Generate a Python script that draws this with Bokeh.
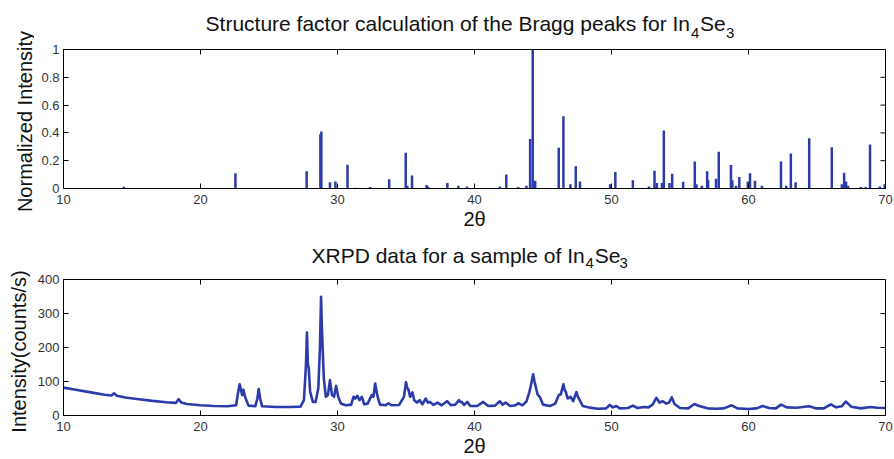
from bokeh.plotting import figure
from bokeh.layouts import column, row
from bokeh.models import Range1d, FixedTicker, Label
from bokeh.embed import file_html
from bokeh.resources import INLINE

# ---------------- data ----------------
# Bragg peak positions (2theta) and normalized intensities
bragg_2theta = [14.4, 22.55, 27.75, 28.75, 28.82, 29.45, 29.85, 30.73, 31.3, 32.38,
                33.77, 34.98, 35.1, 35.44, 36.5, 36.6, 38.02, 38.82, 39.45, 41.85,
                42.32, 43.19, 43.79, 44.06, 44.25, 44.43, 46.15, 46.49, 47.0, 47.39,
                47.7, 49.9, 50.28, 51.56, 52.73, 53.14, 53.31, 53.68, 53.82, 54.23,
                54.43, 55.23, 56.08, 56.2, 56.6, 56.98, 57.05, 57.63, 57.83, 58.72,
                58.82, 59.09, 59.33, 59.95, 60.11, 60.47, 60.98, 62.37, 62.75, 63.09,
                63.44, 64.43, 66.08, 66.81, 66.98, 67.12, 67.27, 68.19, 68.56, 68.87,
                69.58, 69.94]
bragg_intensity = [0.012, 0.11, 0.125, 0.39, 0.41, 0.045, 0.05, 0.17, 0.005, 0.01,
                   0.067, 0.257, 0.02, 0.093, 0.026, 0.015, 0.04, 0.02, 0.015, 0.014,
                   0.1, 0.01, 0.02, 0.356, 1.0, 0.055, 0.294, 0.52, 0.03, 0.16,
                   0.05, 0.03, 0.118, 0.06, 0.015, 0.127, 0.04, 0.04, 0.417, 0.04,
                   0.106, 0.049, 0.194, 0.03, 0.02, 0.125, 0.06, 0.07, 0.264, 0.169,
                   0.06, 0.02, 0.083, 0.05, 0.109, 0.055, 0.02, 0.194, 0.02, 0.252,
                   0.045, 0.361, 0.296, 0.03, 0.113, 0.05, 0.02, 0.01, 0.01, 0.317,
                   0.015, 0.03]

# XRPD measured pattern (2theta, counts/s)
xrpd_2theta = [10.0, 11.0, 12.0, 13.0, 13.5, 13.7, 13.9, 14.5, 15.5, 16.5,
               17.5, 18.2, 18.4, 18.6, 19.0, 20.0, 21.0, 22.0, 22.6, 22.75,
               22.86, 22.98, 23.05, 23.13, 23.25, 23.5, 24.0, 24.15, 24.25, 24.35,
               24.5, 25.5, 26.5, 27.3, 27.55, 27.7, 27.77, 27.84, 27.9, 28.0,
               28.2, 28.4, 28.6, 28.72, 28.8, 28.86, 28.92, 29.0, 29.15, 29.3,
               29.45, 29.6, 29.75, 29.9, 30.05, 30.25, 30.6, 31.0, 31.17, 31.3,
               31.45, 31.6, 31.78, 31.95, 32.2, 32.5, 32.62, 32.75, 32.9, 33.1,
               33.5, 33.72, 33.95, 34.5, 34.85, 35.0, 35.1, 35.18, 35.3, 35.47,
               35.6, 35.8, 36.0, 36.2, 36.44, 36.6, 36.75, 37.0, 37.3, 37.6,
               38.0, 38.3, 38.6, 38.87, 38.95, 39.06, 39.25, 39.47, 39.7, 40.2,
               40.64, 41.0, 41.5, 41.85, 42.05, 42.27, 42.6, 43.0, 43.19, 43.5,
               43.8, 44.0, 44.15, 44.28, 44.38, 44.47, 44.6, 44.76, 45.0, 45.5,
               45.9, 46.15, 46.3, 46.49, 46.58, 46.66, 46.8, 47.02, 47.2, 47.44,
               47.55, 47.68, 47.9, 48.3, 49.0, 49.6, 49.87, 50.1, 50.35, 50.6,
               51.2, 51.56, 51.9, 52.37, 52.7, 53.0, 53.27, 53.5, 53.75, 54.0,
               54.2, 54.4, 54.6, 55.0, 55.6, 56.05, 56.4, 57.0, 57.6, 58.2,
               58.77, 59.2, 60.0, 60.6, 61.03, 61.5, 62.0, 62.37, 62.8, 63.5,
               64.43, 64.9, 65.5, 66.0, 66.4, 66.8, 67.1, 67.5, 68.2, 68.9,
               69.4, 70.0]
xrpd_counts = [82, 75, 68, 61, 59, 65, 58, 53, 48, 43,
               39, 37, 48, 38, 34, 30, 28, 27, 30, 70,
               92, 70, 60, 76, 55, 29, 27, 50, 78, 50,
               27, 25, 25, 26, 45, 150, 244, 150, 140, 70,
               40, 40, 80, 200, 349, 260, 195, 110, 55, 60,
               104, 60, 55, 87, 55, 35, 30, 32, 55, 50,
               58, 45, 55, 33, 35, 60, 55, 94, 60, 32,
               30, 36, 30, 31, 55, 98, 80, 76, 55, 68,
               45, 38, 45, 33, 50, 38, 40, 31, 38, 30,
               42, 30, 32, 45, 40, 40, 31, 40, 28, 28,
               40, 28, 29, 42, 32, 38, 28, 30, 36, 30,
               42, 68, 95, 121, 100, 85, 62, 55, 32, 28,
               35, 60, 62, 92, 75, 70, 50, 55, 42, 69,
               55, 45, 28, 24, 20, 21, 31, 24, 28, 21,
               22, 29, 22, 25, 24, 32, 52, 38, 42, 35,
               38, 53, 34, 22, 21, 34, 28, 21, 20, 21,
               30, 21, 19, 21, 28, 22, 21, 32, 24, 23,
               27, 21, 21, 33, 24, 27, 41, 26, 21, 25,
               23, 22]

x_ticks = [10, 20, 30, 40, 50, 60, 70]
top_y_ticks = [0, 0.2, 0.4, 0.6, 0.8, 1]
top_y_labels = ["0", "0.2", "0.4", "0.6", "0.8", "1"]
bot_y_ticks = [0, 100, 200, 300, 400]

title_top = "Structure factor calculation of the Bragg peaks for In"
title_bot = "XRPD data for a sample of In"
ylabel_top = "Normalized Intensity"
ylabel_bot = "Intensity(counts/s)"
xlabel = "2θ"

# ---------------- style ----------------
FONT = "Liberation Sans"
BLUE = "#2b3caa"
TICK_COLOR = "#333333"
TEXT_COLOR = "#111111"
X0, X1 = 10, 70
LEFT_W = 34          # width of the strip that carries the rotated y labels
MAIN_W = 894 - LEFT_W


def style_axes(p, yticks, ymax, overrides=None):
    p.xgrid.visible = False
    p.ygrid.visible = False
    p.outline_line_color = "black"
    p.outline_line_width = 1
    for ax in p.xaxis + p.yaxis:
        ax.major_tick_in = 5
        ax.major_tick_out = 0
        ax.minor_tick_line_color = None
        ax.axis_line_color = "black"
        ax.major_tick_line_color = "black"
        ax.major_label_text_font = FONT
        ax.major_label_text_font_size = "13px"
        ax.major_label_text_color = TICK_COLOR
        ax.axis_label_text_font = FONT
        ax.axis_label_text_font_size = "20px"
        ax.axis_label_text_font_style = "normal"
        ax.axis_label_text_color = TEXT_COLOR
    p.xaxis.ticker = FixedTicker(ticks=x_ticks)
    p.yaxis.ticker = FixedTicker(ticks=yticks)
    p.xaxis.major_label_standoff = 6
    p.xaxis.axis_label_standoff = 1
    p.yaxis.major_label_standoff = 4
    if overrides:
        p.yaxis.major_label_overrides = overrides
    # mirrored inward ticks on the top and right edges of the box
    p.ray(x=x_ticks, y=[ymax] * len(x_ticks), length=5, length_units="screen",
          angle=-90, angle_units="deg", line_color="black", line_width=1)
    p.ray(x=[X1] * len(yticks), y=yticks, length=5, length_units="screen",
          angle=180, angle_units="deg", line_color="black", line_width=1)


def blank_fig(width, height, xr, yr, left=0, right=0):
    t = figure(width=width, height=height, x_range=xr, y_range=yr, title=None,
               x_axis_location=None, y_axis_location=None,
               output_backend="svg", toolbar_location=None,
               min_border_left=left, min_border_right=right, min_border_top=0, min_border_bottom=0)
    t.grid.visible = False
    t.outline_line_color = None
    return t


def title_fig(height, main, x_end, y_main, y_sub, x_sub1, x_se, x_sub2):
    t = blank_fig(MAIN_W, height, Range1d(X0, X1), Range1d(0, height), left=61 - LEFT_W, right=9)
    common = dict(x_units="data", y_units="data", text_font=FONT,
                  text_color=TEXT_COLOR, text_baseline="middle")
    t.add_layout(Label(x=x_end, y=y_main, text=main, text_align="right",
                       text_font_size="21px", **common))
    t.add_layout(Label(x=x_sub1, y=y_sub, text="4", text_align="left",
                       text_font_size="15px", **common))
    t.add_layout(Label(x=x_se, y=y_main, text="Se", text_align="left",
                       text_font_size="21px", **common))
    t.add_layout(Label(x=x_sub2, y=y_sub, text="3", text_align="left",
                       text_font_size="15px", **common))
    return t


# ---------------- left strip with the y labels ----------------
lf = blank_fig(LEFT_W, 459, Range1d(0, LEFT_W), Range1d(0, 459))
for txt, xc, yc in [(ylabel_top, 24, 338), (ylabel_bot, 18, 108)]:
    lf.add_layout(Label(x=xc, y=yc, text=txt, angle=90, angle_units="deg",
                        text_align="center", text_baseline="middle", text_font=FONT,
                        text_font_size="20px", text_color=TEXT_COLOR))

# ---------------- top panel ----------------
t1 = title_fig(41, title_top, 55.73, 18, 9, 55.80, 56.46, 58.35)

p1 = figure(width=MAIN_W, height=191, x_range=Range1d(X0, X1), y_range=Range1d(0, 1),
            title=None, output_backend="svg", toolbar_location=None,
            min_border_left=61 - LEFT_W, min_border_right=9, min_border_top=8, min_border_bottom=39,
            x_axis_label=xlabel)
p1.segment(x0=bragg_2theta, y0=[0] * len(bragg_2theta), x1=bragg_2theta, y1=bragg_intensity,
           line_color=BLUE, line_width=2.5)
style_axes(p1, top_y_ticks, 1, dict(zip(top_y_ticks, top_y_labels)))

# ---------------- bottom panel ----------------
t2 = title_fig(39, title_bot, 48.04, 16, 8.5, 48.11, 48.77, 50.59)

p2 = figure(width=MAIN_W, height=188, x_range=Range1d(X0, X1), y_range=Range1d(0, 400),
            title=None, output_backend="svg", toolbar_location=None,
            min_border_left=61 - LEFT_W, min_border_right=9, min_border_top=8, min_border_bottom=36,
            x_axis_label=xlabel)
p2.line(xrpd_2theta, xrpd_counts, line_color=BLUE, line_width=2.6, line_join="round")
style_axes(p2, bot_y_ticks, 400)

layout = row(lf, column(t1, p1, t2, p2, spacing=0), spacing=0)
open("out.html", "w").write(file_html(layout, INLINE))
